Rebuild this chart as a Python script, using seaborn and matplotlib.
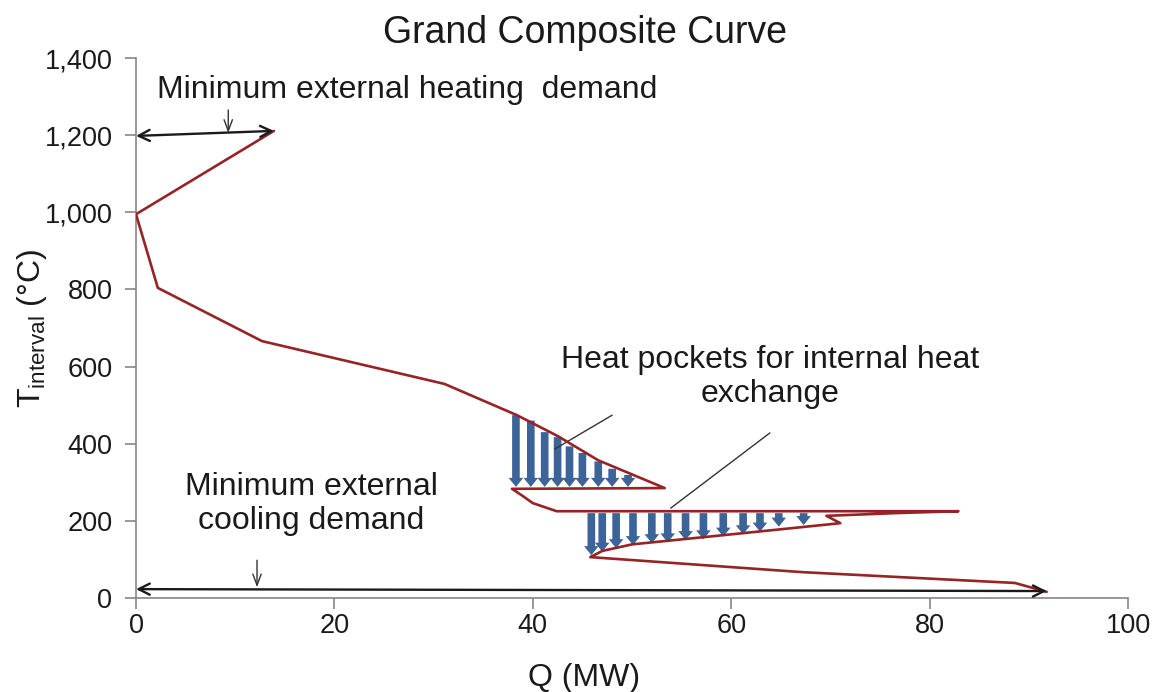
import numpy as np
import pandas as pd
import matplotlib
matplotlib.use("Agg")
import matplotlib.pyplot as plt
import seaborn as sns
from matplotlib.ticker import FuncFormatter

# ---- data ----
gcc_q = [13.9, 0.0, 2.2, 12.7, 31.1, 38.4, 42.5, 46.6, 53.3, 37.9, 38.9, 40.0, 42.4,
         82.9, 76.5, 69.6, 71.0, 60.0, 50.0, 47.0, 45.8, 67.2, 88.6, 91.8]
gcc_t = [1211, 995, 804, 666, 555, 474, 420, 357, 285, 283, 266, 246, 225,
         225, 220, 213, 194, 165, 139, 122, 106, 67, 39, 16]

pocket1_q = [38.3, 39.8, 41.2, 42.5, 43.7, 45.0, 46.6, 48.0, 49.6]
pocket1_top = [474, 460, 430, 417, 393, 376, 354, 335, 319]
pocket1_bottom = [288, 288, 288, 288, 288, 288, 288, 288, 288]

pocket2_q = [45.9, 47.0, 48.4, 50.1, 52.0, 53.6, 55.4, 57.2, 59.2, 61.2, 62.9, 64.8, 67.3]
pocket2_top = [220] * 13
pocket2_bottom = [111, 120, 129, 137, 142, 144, 150, 152, 159, 165, 172, 185, 189]

x_ticks = [0, 20, 40, 60, 80, 100]
y_ticks = [0, 200, 400, 600, 800, 1000, 1200, 1400]

title = "Grand Composite Curve"
x_label = "Q (MW)"
y_label = r"T$_{\mathrm{interval}}$ (°C)"
heat_text = "Minimum external heating  demand"
cool_text = "Minimum external\ncooling demand"
pocket_text = "Heat pockets for internal heat\nexchange"

# ---- style ----
sns.set_style("ticks")
plt.rcParams["font.family"] = ["Liberation Sans", "DejaVu Sans"]
plt.rcParams["mathtext.fontset"] = "custom"
plt.rcParams["mathtext.rm"] = "Liberation Sans"
plt.rcParams["mathtext.it"] = "Liberation Sans:italic"

curve_color = "#962326"
arrow_blue = "#3C6499"
text_color = "#1a1a1a"
axis_gray = "#868686"

fig = plt.figure(figsize=(11.57, 6.92), dpi=100)
ax = fig.add_axes([136 / 1157, 1 - 598 / 692, (1128 - 136) / 1157, (598 - 58) / 692])

df = pd.DataFrame({"Q": gcc_q, "T": gcc_t})
sns.lineplot(data=df, x="Q", y="T", sort=False, estimator=None, color=curve_color,
             linewidth=1.9, ax=ax, zorder=3)

# heat pocket arrows
blue_style = "simple,head_width=1.05,head_length=0.65,tail_width=0.55"
for q, t0, t1 in zip(pocket1_q + pocket2_q, pocket1_top + pocket2_top,
                     pocket1_bottom + pocket2_bottom):
    ax.annotate("", xy=(q, t1), xytext=(q, t0),
                arrowprops=dict(arrowstyle=blue_style, color=arrow_blue, lw=0,
                                shrinkA=0, shrinkB=0, mutation_scale=10),
                zorder=2)

# external demand double arrows
black_arrow = dict(arrowstyle="<->,head_width=0.4,head_length=0.8", color="#1a1a1a",
                   lw=1.7, shrinkA=0, shrinkB=0)
ax.annotate("", xy=(0, 1198), xytext=(gcc_q[0], gcc_t[0]), arrowprops=black_arrow, zorder=4)
ax.annotate("", xy=(0, 23), xytext=(gcc_q[-1], 18), arrowprops=black_arrow, zorder=4)

thin_arrow = dict(arrowstyle="->,head_width=0.3,head_length=0.8", color="#333333",
                  lw=1.0, shrinkA=0, shrinkB=0)
ax.annotate("", xy=(9.3, 1206), xytext=(9.3, 1265), arrowprops=thin_arrow)
ax.annotate("", xy=(12.2, 28), xytext=(12.2, 98), arrowprops=thin_arrow)

# pointer lines for heat pockets
ax.plot([48.0, 42.2], [474, 386], color="#333333", lw=1.0)
ax.plot([63.9, 53.9], [428, 233], color="#333333", lw=1.0)

fs = 23
ax.text(27.3, 1317, heat_text, ha="center", va="center", fontsize=fs, color=text_color)
ax.text(17.7, 244, cool_text, ha="center", va="center", fontsize=fs, color=text_color,
        linespacing=1.15)
ax.text(63.9, 573, pocket_text, ha="center", va="center", fontsize=fs, color=text_color,
        linespacing=1.15)

ax.set_xlim(0, 100)
ax.set_ylim(0, 1400)
ax.set_xticks(x_ticks)
ax.set_yticks(y_ticks)
ax.yaxis.set_major_formatter(FuncFormatter(lambda v, p: f"{int(v):,}"))
ax.tick_params(axis="both", labelsize=19.5, colors=axis_gray, labelcolor=text_color,
               length=8, width=1.2, direction="out")
ax.tick_params(axis="y", pad=9)
ax.tick_params(axis="x", pad=3)
for s in ["top", "right"]:
    ax.spines[s].set_visible(False)
for s in ["left", "bottom"]:
    ax.spines[s].set_color(axis_gray)
    ax.spines[s].set_linewidth(1.2)

fig.text(585 / 1157, 1 - 33 / 692, title, ha="center", va="center", fontsize=27,
         color=text_color)
ax.set_xlabel(x_label, fontsize=23, color=text_color)
ax.xaxis.set_label_coords(0.452, -0.148)
ax.xaxis.label.set_va("center")
ax.set_ylabel(y_label, fontsize=23, color=text_color)
ax.yaxis.set_label_coords(-0.088, 0.50)

fig.savefig("out.png", dpi=100)
